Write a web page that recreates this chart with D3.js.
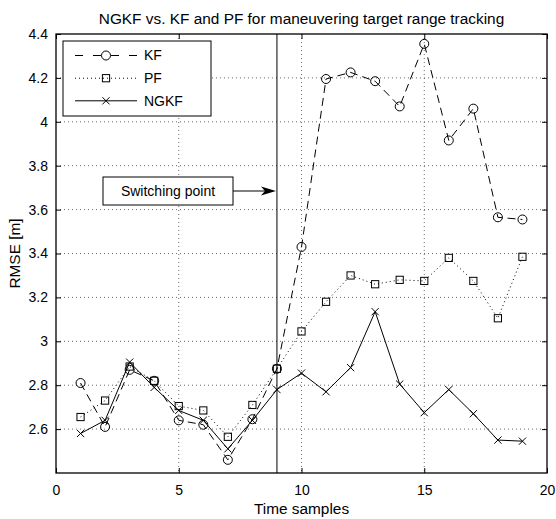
<!DOCTYPE html>
<html>
<head>
<meta charset="utf-8">
<script src="https://cdn.jsdelivr.net/npm/d3@7"></script>
<style>
  html, body { margin: 0; padding: 0; background: #fff; }
  svg { display: block; }
  text { font-family: "Liberation Sans", Arial, Helvetica, sans-serif; fill: #000; }
</style>
</head>
<body>
<svg id="chart" width="556" height="519"></svg>
<script>
// ---- data ----
const samples = [1,2,3,4,5,6,7,8,9,10,11,12,13,14,15,16,17,18,19];
const kf   = [2.81,2.61,2.87,2.82,2.64,2.62,2.46,2.645,2.875,3.43,4.195,4.225,4.185,4.07,4.355,3.915,4.06,3.565,3.555];
const pf   = [2.655,2.73,2.885,2.82,2.705,2.685,2.565,2.71,2.875,3.045,3.18,3.30,3.26,3.28,3.275,3.38,3.275,3.105,3.385];
const ngkf = [2.58,2.64,2.905,2.79,2.685,2.64,2.51,2.64,2.78,2.855,2.77,2.88,3.135,2.805,2.675,2.78,2.67,2.55,2.545];
const xTicks = [0,5,10,15,20];
const yTicks = [2.6,2.8,3.0,3.2,3.4,3.6,3.8,4.0,4.2,4.4];
const xDomain = [0,20];
const yDomain = [2.4,4.4];
const switchX = 9;
const titleText = "NGKF vs. KF and PF for maneuvering target range tracking";
const xLabel = "Time samples";
const yLabel = "RMSE [m]";
const annotationText = "Switching point";
const seriesNames = ["KF","PF","NGKF"];

// ---- layout ----
const L = 56, R = 547, T = 34, B = 473;
const svg = d3.select("#chart");
const x = d3.scaleLinear().domain(xDomain).range([L, R]);
const y = d3.scaleLinear().domain(yDomain).range([B, T]);
const fs = 14;
const fsL = 15.4;

// grid
const g = svg.append("g");
g.selectAll(".gx").data(xTicks.filter(d => d > xDomain[0] && d < xDomain[1])).enter()
  .append("line").attr("x1", d => x(d)).attr("x2", d => x(d)).attr("y1", T).attr("y2", B)
  .attr("stroke", "#444").attr("stroke-width", 0.8).attr("stroke-dasharray", "1,3");
g.selectAll(".gy").data(yTicks.filter(d => d > yDomain[0] && d < yDomain[1])).enter()
  .append("line").attr("y1", d => y(d)).attr("y2", d => y(d)).attr("x1", L).attr("x2", R)
  .attr("stroke", "#444").attr("stroke-width", 0.8).attr("stroke-dasharray", "1,3");

// axes with inner ticks
const tl = 5;
const axB = d3.axisBottom(x).tickValues(xTicks).tickSizeInner(-tl).tickSizeOuter(0).tickPadding(12).tickFormat(d3.format("d"));
const axT = d3.axisTop(x).tickValues(xTicks).tickSizeInner(-tl).tickSizeOuter(0).tickFormat("");
const axL = d3.axisLeft(y).tickValues(yTicks).tickSizeInner(-tl).tickSizeOuter(0).tickPadding(8).tickFormat(d => d3.format("")(+d.toFixed(1)));
const axR = d3.axisRight(y).tickValues(yTicks).tickSizeInner(-tl).tickSizeOuter(0).tickFormat("");
function styleAxis(sel) {
  sel.select(".domain").remove();
  sel.selectAll("line").attr("stroke", "#000").attr("stroke-width", 1);
  sel.selectAll("text").style("font-size", fs + "px").style("font-family", '"Liberation Sans", Arial, sans-serif').attr("fill", "#000");
}
svg.append("g").attr("transform", `translate(0,${B})`).call(axB).call(styleAxis);
svg.append("g").attr("transform", `translate(0,${T})`).call(axT).call(styleAxis);
svg.append("g").attr("transform", `translate(${L},0)`).call(axL).call(styleAxis);
svg.append("g").attr("transform", `translate(${R},0)`).call(axR).call(styleAxis);

// frame
svg.append("rect").attr("x", L).attr("y", T).attr("width", R - L).attr("height", B - T)
  .attr("fill", "none").attr("stroke", "#000").attr("stroke-width", 1.3);

// switching line
svg.append("line").attr("x1", x(switchX)).attr("x2", x(switchX)).attr("y1", T).attr("y2", B)
  .attr("stroke", "#000").attr("stroke-width", 1);

// series
const line = d3.line().x((d, i) => x(samples[i])).y(d => y(d));
function drawCircle(sel, cx, cy) {
  sel.append("circle").attr("cx", cx).attr("cy", cy).attr("r", 4.5)
    .attr("fill", "none").attr("stroke", "#000").attr("stroke-width", 1);
}
function drawSquare(sel, cx, cy) {
  sel.append("rect").attr("x", cx - 3.6).attr("y", cy - 3.6).attr("width", 7.2).attr("height", 7.2)
    .attr("fill", "none").attr("stroke", "#000").attr("stroke-width", 1);
}
function drawX(sel, cx, cy) {
  const h = 3.6;
  sel.append("path").attr("d", `M${cx-h},${cy-h}L${cx+h},${cy+h}M${cx-h},${cy+h}L${cx+h},${cy-h}`)
    .attr("stroke", "#000").attr("stroke-width", 1).attr("fill", "none");
}
const seriesDefs = [
  {name: seriesNames[0], data: kf, dash: "8,5", marker: drawCircle, legDash: "8,10"},
  {name: seriesNames[1], data: pf, dash: "1,3", marker: drawSquare, legDash: "1,3"},
  {name: seriesNames[2], data: ngkf, dash: null, marker: drawX, legDash: null}
];
seriesDefs.forEach(s => {
  const gs = svg.append("g");
  gs.append("path").attr("d", line(s.data)).attr("fill", "none").attr("stroke", "#000")
    .attr("stroke-width", 1).attr("stroke-dasharray", s.dash);
  s.data.forEach((v, i) => s.marker(gs, x(samples[i]), y(v)));
});

// legend
const lg = svg.append("g");
lg.append("rect").attr("x", 63).attr("y", 41).attr("width", 148).attr("height", 75)
  .attr("fill", "#fff").attr("stroke", "#000").attr("stroke-width", 1);
const legY = [55.5, 78.2, 100.8];
seriesDefs.forEach((s, i) => {
  const ly = legY[i];
  lg.append("line").attr("x1", 75).attr("x2", 137).attr("y1", ly).attr("y2", ly)
    .attr("stroke", "#000").attr("stroke-width", 1).attr("stroke-dasharray", s.legDash);
  if (s.name === "KF") {
    lg.append("rect").attr("x", 101).attr("y", ly - 5).attr("width", 10).attr("height", 10).attr("fill", "#fff");
  }
  s.marker(lg, 106, ly);
  lg.append("text").attr("x", 144).attr("y", ly).attr("dy", "0.35em").style("font-size", fs + "px").text(s.name);
});

// annotation
const ax0 = 103, ay = 191;
svg.append("rect").attr("x", ax0).attr("y", ay - 14).attr("width", 130).attr("height", 28)
  .attr("fill", "#fff").attr("stroke", "#000").attr("stroke-width", 1);
svg.append("text").attr("x", ax0 + 65).attr("y", ay).attr("dy", "0.35em").attr("text-anchor", "middle")
  .style("font-size", fs + "px").text(annotationText);
const tipX = x(switchX) - 1;
svg.append("line").attr("x1", ax0 + 130).attr("x2", tipX - 10).attr("y1", ay).attr("y2", ay)
  .attr("stroke", "#000").attr("stroke-width", 1.2);
svg.append("path").attr("d", `M${tipX},${ay}L${tipX-15},${ay-4.5}L${tipX-11},${ay}L${tipX-15},${ay+4.5}Z`)
  .attr("fill", "#000");

// titles
svg.append("text").attr("x", (L + R) / 2).attr("y", 24).attr("text-anchor", "middle").style("font-size", fsL + "px").text(titleText);
svg.append("text").attr("x", (L + R) / 2).attr("y", 514).attr("text-anchor", "middle").style("font-size", fsL + "px").text(xLabel);
svg.append("text").attr("transform", `translate(20,${(T + B) / 2}) rotate(-90)`).attr("text-anchor", "middle")
  .style("font-size", fsL + "px").text(yLabel);
</script>
</body>
</html>
